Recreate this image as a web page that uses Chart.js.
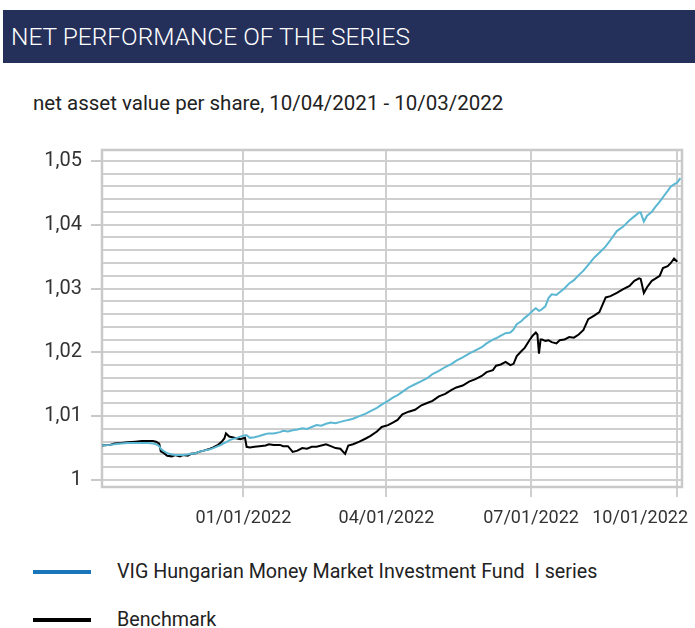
<!DOCTYPE html>
<html>
<head>
<meta charset="utf-8">
<title>Net performance of the series</title>
<script src="https://cdn.jsdelivr.net/npm/chart.js@4.4.1/dist/chart.umd.min.js"></script>
<style>
  body { margin: 0; width: 695px; height: 628px; background: #fff; position: relative; overflow: hidden;
         font-family: Roboto, 'Noto Sans', sans-serif; color: #222; }
  .header { position: absolute; left: 3px; top: 10px; width: 692px; height: 53px; background: #25305a;
            color: #fff; font-size: 24.5px; font-weight: 300; line-height: 53px; padding-left: 8px; box-sizing: border-box; }
  .subtitle { position: absolute; left: 33px; top: 91px; font-size: 20.5px; }
  #chart { position: absolute; left: 0; top: 140px; }
  .legend-item { position: absolute; left: 33px; height: 24px; white-space: pre; font-size: 19.7px; line-height: 24px; }
  .legend-item .swatch { position: absolute; left: 0; top: 10px; width: 58px; height: 4px; }
  .legend-item .text { position: absolute; left: 84px; top: 0; }
</style>
</head>
<body>
<div class="header">NET PERFORMANCE OF THE SERIES</div>
<div class="subtitle">net asset value per share, 10/04/2021 - 10/03/2022</div>
<canvas id="chart" width="695" height="395"></canvas>
<div id="legend"></div>

<script>
// jours depuis le 10/04/2021
const days = [0, 5, 8, 12, 16, 21, 25, 29, 32, 34, 36, 37, 39, 41, 44, 46, 49, 51, 54, 56, 59, 61, 64, 68, 70, 73, 75, 77, 78, 80,
  82, 85, 87, 90, 91, 93, 96, 99, 103, 105, 108, 112, 114, 117, 120, 123, 126, 129, 132, 135, 138, 141, 144, 147, 150, 153, 155, 158, 162, 166,
  169, 173, 176, 180, 183, 186, 189, 193, 197, 201, 205, 208, 212, 216, 220, 223, 227, 231, 235, 239, 242, 246, 248, 251, 254, 257, 259, 261, 264, 266,
  269, 271, 273, 274, 275, 276, 277, 279, 281, 283, 286, 288, 291, 294, 297, 300, 303, 306, 310, 313, 317, 320, 324, 328, 332, 335, 338, 339, 341, 343,
  346, 348, 351, 353, 356, 358, 360, 362, 364];

const fundValues = [1.0054, 1.0055, 1.0056, 1.0057, 1.0058, 1.0058, 1.0058, 1.0058, 1.0057, 1.0056, 1.0053, 1.0049, 1.0045, 1.0042, 1.0040, 1.0039, 1.0039, 1.0039, 1.0040, 1.0041,
  1.0042, 1.0044, 1.0046, 1.0048, 1.0050, 1.0053, 1.0055, 1.0058, 1.0059, 1.0062,
  1.0064, 1.0066, 1.0068, 1.0070, 1.0070, 1.0066, 1.0067, 1.0069, 1.0072, 1.0073, 1.0073, 1.0075, 1.0077, 1.0076, 1.0078, 1.0079, 1.0081, 1.0080, 1.0083, 1.0086,
  1.0085, 1.0088, 1.0090, 1.0089, 1.0091, 1.0093, 1.0094, 1.0096, 1.0100, 1.0104,
  1.0108, 1.0113, 1.0118, 1.0124, 1.0129, 1.0133, 1.0138, 1.0145, 1.0150, 1.0155, 1.0160, 1.0166, 1.0171, 1.0177, 1.0182, 1.0187, 1.0192, 1.0198, 1.0203, 1.0208,
  1.0214, 1.0220, 1.0222, 1.0226, 1.0230, 1.0231, 1.0236, 1.0244, 1.0249, 1.0254,
  1.0260, 1.0265, 1.0269, 1.0267, 1.0265, 1.0266, 1.0268, 1.0272, 1.0285, 1.0291, 1.0290, 1.0294, 1.0300, 1.0308, 1.0313, 1.0321, 1.0328, 1.0337, 1.0349, 1.0356,
  1.0366, 1.0376, 1.0390, 1.0397, 1.0407, 1.0413, 1.0419, 1.0419, 1.0405, 1.0414,
  1.0420, 1.0427, 1.0436, 1.0443, 1.0453, 1.0460, 1.0463, 1.0466, 1.0473];

const benchmarkValues = [1.0054, 1.0055, 1.0057, 1.0058, 1.0059, 1.0060, 1.0061, 1.0061, 1.0061, 1.0060, 1.0057, 1.0045, 1.0042, 1.0038, 1.0037, 1.0039, 1.0037, 1.0039, 1.0038, 1.0041,
  1.0042, 1.0044, 1.0046, 1.0049, 1.0051, 1.0055, 1.0059, 1.0065, 1.0073, 1.0068,
  1.0067, 1.0065, 1.0064, 1.0066, 1.0052, 1.0051, 1.0052, 1.0053, 1.0054, 1.0056, 1.0055, 1.0055, 1.0053, 1.0053, 1.0044, 1.0046, 1.0050, 1.0049, 1.0052, 1.0052,
  1.0054, 1.0056, 1.0053, 1.0050, 1.0049, 1.0041, 1.0054, 1.0056, 1.0060, 1.0065,
  1.0069, 1.0076, 1.0083, 1.0086, 1.0090, 1.0094, 1.0103, 1.0107, 1.0110, 1.0117, 1.0121, 1.0124, 1.0131, 1.0135, 1.0141, 1.0145, 1.0148, 1.0154, 1.0158, 1.0163,
  1.0169, 1.0172, 1.0179, 1.0181, 1.0185, 1.0180, 1.0182, 1.0194, 1.0202, 1.0207,
  1.0219, 1.0226, 1.0231, 1.0228, 1.0198, 1.0220, 1.0220, 1.0218, 1.0219, 1.0216, 1.0214, 1.0219, 1.0220, 1.0224, 1.0223, 1.0228, 1.0235, 1.0252, 1.0258, 1.0263,
  1.0286, 1.0288, 1.0293, 1.0299, 1.0304, 1.0312, 1.0316, 1.0315, 1.0293, 1.0302,
  1.0312, 1.0315, 1.0320, 1.0332, 1.0335, 1.0340, 1.0347, 1.0342, null];

const seriesNames = ['VIG Hungarian Money Market Investment Fund  I series', 'Benchmark'];
const seriesColors = ['#5bb7d2', '#000000'];
const legendColors = ['#1b75bb', '#000000'];

const tickDays = [89, 179, 270, 362];
const tickLabels = ['01/01/2022', '04/01/2022', '07/01/2022', '10/01/2022'];
const yMajorTicks = [1, 1.01, 1.02, 1.03, 1.04, 1.05];
const yMinorStep = 0.002;

const isMajor = v => yMajorTicks.some(m => Math.abs(m - v) < 1e-7);

// Bordure grise autour de la zone du graphique
const plotBorder = {
  id: 'plotBorder',
  beforeDatasetsDraw(chart) {
    const { ctx, chartArea: a } = chart;
    ctx.save();
    ctx.strokeStyle = '#c9c9c9';
    ctx.lineWidth = 2.5;
    ctx.strokeRect(a.left, a.top, a.right - a.left, a.bottom - a.top);
    ctx.restore();
  }
};

// Étiquettes de l'axe X (la dernière est décalée pour rester dans le cadre)
const xLabels = {
  id: 'xLabels',
  afterDraw(chart) {
    const { ctx, scales: { x }, chartArea } = chart;
    ctx.save();
    ctx.font = '18px Roboto, "Noto Sans", sans-serif';
    ctx.fillStyle = '#333';
    ctx.textBaseline = 'middle';
    tickDays.forEach((d, i) => {
      const w = ctx.measureText(tickLabels[i]).width;
      const left = Math.min(x.getPixelForValue(d) - w / 2, chart.width - 7 - w);
      ctx.fillText(tickLabels[i], left, chartArea.bottom + 31);
    });
    ctx.restore();
  }
};

const chart = new Chart(document.getElementById('chart').getContext('2d'), {
  type: 'line',
  data: {
    datasets: [
      { label: seriesNames[0], data: days.map((d, i) => ({ x: d, y: fundValues[i] })), borderColor: seriesColors[0], borderWidth: 2 },
      { label: seriesNames[1], data: days.map((d, i) => ({ x: d, y: benchmarkValues[i] })), borderColor: seriesColors[1], borderWidth: 2 }
    ]
  },
  options: {
    responsive: false,
    animation: false,
    layout: { padding: { top: 10, right: 13, left: 0, bottom: 0 } },
    elements: { point: { radius: 0 }, line: { tension: 0 } },
    plugins: { legend: { display: false }, tooltip: { enabled: false } },
    scales: {
      x: {
        type: 'linear', min: 0, max: 365,
        afterBuildTicks: s => { s.ticks = tickDays.map(v => ({ value: v })); },
        afterFit: s => { s.height = 48; s.paddingLeft = 0; s.paddingRight = 0; },
        ticks: { display: false },
        grid: { color: '#cfcfcf', lineWidth: 2, tickLength: 10, tickColor: '#cfcfcf' },
        border: { display: false }
      },
      y: {
        min: 0.9989, max: 1.0517,
        afterBuildTicks: s => {
          const t = [];
          for (let i = 0; i <= 25; i++) t.push({ value: +(1 + i * yMinorStep).toFixed(3) });
          s.ticks = t;
        },
        afterFit: s => { s.width = 102; s.paddingTop = 0; s.paddingBottom = 0; },
        ticks: {
          autoSkip: false, padding: 9, color: '#333',
          font: { family: 'Roboto', size: 20 },
          callback: v => isMajor(v) ? (v === 1 ? '1' : v.toFixed(2).replace('.', ',')) : ''
        },
        grid: {
          color: '#cfcfcf', lineWidth: 2, tickLength: 11,
          tickColor: c => isMajor(c.tick.value) ? '#c9c9c9' : 'rgba(0,0,0,0)'
        },
        border: { display: false }
      }
    }
  },
  plugins: [plotBorder, xLabels]
});

// Légende en HTML, sous le graphique
const legend = document.getElementById('legend');
seriesNames.forEach((name, i) => {
  const item = document.createElement('div');
  item.className = 'legend-item';
  item.style.top = (560 + i * 48) + 'px';
  item.innerHTML = '<span class="swatch" style="background:' + legendColors[i] + '"></span><span class="text"></span>';
  item.querySelector('.text').textContent = name;
  legend.appendChild(item);
});
</script>
</body>
</html>
